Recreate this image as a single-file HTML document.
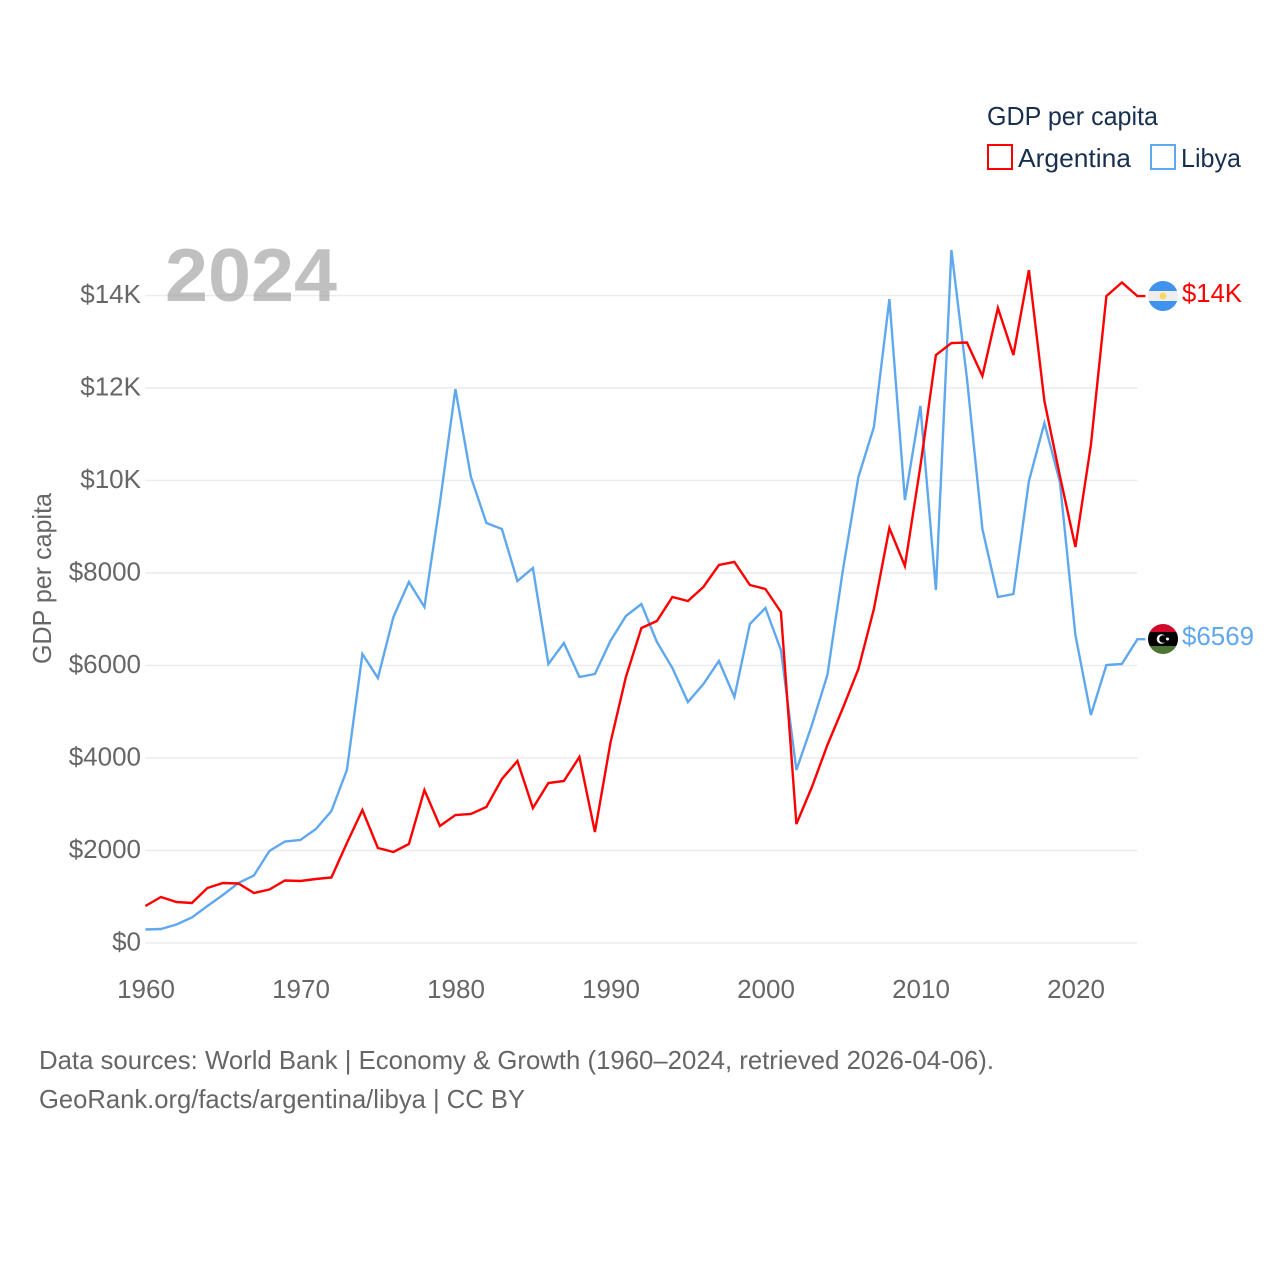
<!DOCTYPE html>
<html lang="en">
<head>
<meta charset="utf-8">
<title>GDP per capita: Argentina vs Libya</title>
<style>
html,body{margin:0;padding:0;background:#fff;width:1280px;height:1280px;overflow:hidden}
svg{display:block}
text{font-family:"Liberation Sans",sans-serif}
</style>
</head>
<body>
<svg id="chart" xmlns="http://www.w3.org/2000/svg" width="1280" height="1280" viewBox="0 0 1280 1280">
  <rect width="1280" height="1280" fill="#fff"/>
  <g id="grid"></g>
  <g id="yticks"></g>
  <g id="xticks"></g>
  <text transform="translate(51,664) rotate(-90)" font-size="26" fill="#666" textLength="171" lengthAdjust="spacingAndGlyphs">GDP per capita</text>
  <g id="series"></g>
  <text x="165" y="301" font-size="75" font-weight="700" fill="#999" fill-opacity="0.62" textLength="172" lengthAdjust="spacingAndGlyphs">2024</text>

  <g>
    <clipPath id="clipAr"><circle cx="1163" cy="296" r="15"/></clipPath>
    <g clip-path="url(#clipAr)">
      <rect x="1148" y="281" width="30" height="10" fill="#3f93ee"/>
      <rect x="1148" y="291" width="30" height="10" fill="#eeeeee"/>
      <rect x="1148" y="301" width="30" height="10" fill="#3f93ee"/>
      <circle cx="1163" cy="296" r="3.5" fill="#fcd663"/>
    </g>
  </g>
  <g>
    <clipPath id="clipLy"><circle cx="1163" cy="639" r="15"/></clipPath>
    <g clip-path="url(#clipLy)">
      <rect x="1148" y="624" width="30" height="8" fill="#cf0a2c"/>
      <rect x="1148" y="632" width="30" height="14" fill="#000"/>
      <rect x="1148" y="646" width="30" height="8" fill="#4d7535"/>
      <circle cx="1161.5" cy="639" r="4.8" fill="#fff"/>
      <circle cx="1163" cy="639" r="3.8" fill="#000"/>
      <circle cx="1167.5" cy="639" r="1.5" fill="#fff"/>
    </g>
  </g>
  <text x="1182" y="302" font-size="26" fill="#ff0000" textLength="60" lengthAdjust="spacingAndGlyphs">$14K</text>
  <text x="1182" y="645" font-size="26" fill="#5fa8ee" textLength="72" lengthAdjust="spacingAndGlyphs">$6569</text>

  <g>
    <text x="987" y="125" font-size="26" fill="#18304f" textLength="171" lengthAdjust="spacingAndGlyphs">GDP per capita</text>
    <g>
      <rect x="988" y="145" width="24" height="24" fill="none" stroke="#ff0000" stroke-width="2"/>
      <text x="1018" y="167" font-size="26" fill="#18304f" textLength="113" lengthAdjust="spacingAndGlyphs">Argentina</text>
    </g>
    <g>
      <rect x="1151" y="145" width="24" height="24" fill="none" stroke="#5fa8ee" stroke-width="2"/>
      <text x="1181" y="167" font-size="26" fill="#18304f" textLength="60" lengthAdjust="spacingAndGlyphs">Libya</text>
    </g>
  </g>

  <text x="39" y="1069" font-size="26" fill="#666" textLength="955" lengthAdjust="spacingAndGlyphs">Data sources: World Bank | Economy &amp; Growth (1960–2024, retrieved 2026-04-06).</text>
  <a><text x="39" y="1108" font-size="26" fill="#666" textLength="486" lengthAdjust="spacingAndGlyphs">GeoRank.org/facts/argentina/libya | CC BY</text></a>
</svg>
<script>
const years = [1960,1961,1962,1963,1964,1965,1966,1967,1968,1969,1970,1971,1972,1973,1974,1975,1976,1977,1978,1979,1980,1981,1982,1983,1984,1985,1986,1987,1988,1989,1990,1991,1992,1993,1994,1995,1996,1997,1998,1999,2000,2001,2002,2003,2004,2005,2006,2007,2008,2009,2010,2011,2012,2013,2014,2015,2016,2017,2018,2019,2020,2021,2022,2023,2024];
const argentina = [800,995,886,865,1189,1297,1286,1081,1157,1351,1340,1384,1416,2162,2875,2054,1967,2140,3308,2530,2767,2789,2940,3546,3935,2919,3459,3502,4021,2400,4324,5751,6810,6962,7481,7394,7697,8172,8237,7740,7653,7156,2573,3373,4281,5081,5924,7221,8972,8151,10313,12713,12972,12983,12259,13729,12713,14550,11718,10097,8562,10767,13988,14280,13988];
const libya = [292,303,400,551,800,1038,1297,1459,1989,2194,2227,2465,2854,3740,6248,5729,7048,7805,7264,9513,11977,10075,9080,8951,7826,8108,6032,6486,5751,5816,6529,7070,7329,6508,5946,5210,5600,6097,5319,6897,7243,6335,3740,4713,5794,8064,10075,11156,13923,9578,11610,7632,14983,12215,8951,7481,7545,9988,11242,9967,6659,4929,6010,6032,6569];
const yTickValues = [0,2000,4000,6000,8000,10000,12000,14000];
const yTickLabels = ['$0','$2000','$4000','$6000','$8000','$10K','$12K','$14K'];
const xTickValues = [1960,1970,1980,1990,2000,2010,2020];

const NS = 'http://www.w3.org/2000/svg';
const xScale = function (year) { return 145.4 + (year - 1960) * 15.5; };
const yScale = function (value) { return 943 - value * 0.04625; };
const gridLayer = document.getElementById('grid');
const yLayer = document.getElementById('yticks');
const xLayer = document.getElementById('xticks');
const seriesLayer = document.getElementById('series');

yTickValues.forEach(function (value, i) {
  const line = document.createElementNS(NS, 'line');
  
  
  line.setAttribute('x1', xScale(1960));
  line.setAttribute('x2', xScale(2024));
  line.setAttribute('y1', yScale(value));
  line.setAttribute('y2', yScale(value));
  line.setAttribute('stroke', '#ececec');
  line.setAttribute('stroke-width', '1.6');
  gridLayer.appendChild(line);

  const label = document.createElementNS(NS, 'text');
  
  
  label.setAttribute('x', 141);
  label.setAttribute('y', yScale(value) + 7.5);
  label.setAttribute('text-anchor', 'end');
  label.setAttribute('font-size', '26');
  label.setAttribute('fill', '#666');
  label.textContent = yTickLabels[i];
  yLayer.appendChild(label);
});

xTickValues.forEach(function (year) {
  const label = document.createElementNS(NS, 'text');
  
  
  label.setAttribute('x', xScale(year) + 0.6);
  label.setAttribute('y', 998);
  label.setAttribute('text-anchor', 'middle');
  label.setAttribute('font-size', '26');
  label.setAttribute('fill', '#666');
  label.textContent = String(year);
  xLayer.appendChild(label);
});

function drawSeries(values, color, name) {
  const pts = values.map(function (v, i) { return xScale(years[i]).toFixed(1) + ',' + yScale(v).toFixed(1); });
  const last = values[values.length - 1];
  pts.push((xScale(years[years.length - 1]) + 8).toFixed(1) + ',' + yScale(last).toFixed(1));
  const path = document.createElementNS(NS, 'polyline');
  
  
  path.setAttribute('points', pts.join(' '));
  path.setAttribute('fill', 'none');
  path.setAttribute('stroke', color);
  path.setAttribute('stroke-width', '2.4');
  path.setAttribute('stroke-linejoin', 'miter');
  seriesLayer.appendChild(path);
}
drawSeries(libya, '#5fa8ee', 'series-libya');
drawSeries(argentina, '#ff0000', 'series-argentina');
</script>
</body>
</html>
